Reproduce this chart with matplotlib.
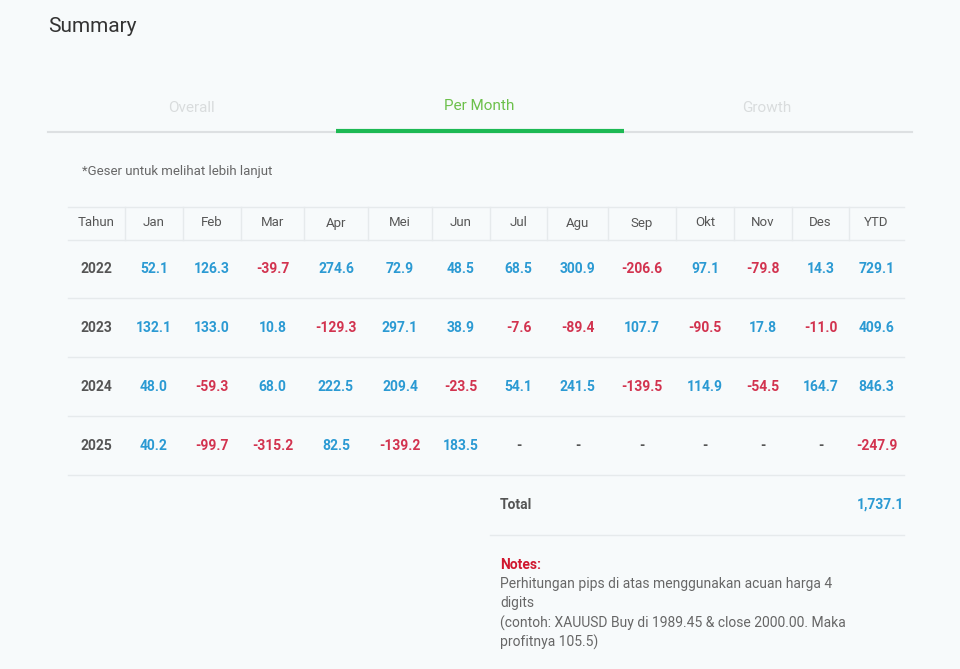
import matplotlib
matplotlib.use("Agg")
import matplotlib.pyplot as plt

months = ["Jan","Feb","Mar","Apr","Mei","Jun","Jul","Agu","Sep","Okt","Nov","Des"]
years = ["2022","2023","2024","2025"]
v2022 = [52.1,126.3,-39.7,274.6,72.9,48.5,68.5,300.9,-206.6,97.1,-79.8,14.3]
v2023 = [132.1,133.0,10.8,-129.3,297.1,38.9,-7.6,-89.4,107.7,-90.5,17.8,-11.0]
v2024 = [48.0,-59.3,68.0,222.5,209.4,-23.5,54.1,241.5,-139.5,114.9,-54.5,164.7]
v2025 = [40.2,-99.7,-315.2,82.5,-139.2,183.5,None,None,None,None,None,None]
ytd = [729.1,409.6,846.3,-247.9]
total = "1,737.1"
tabs = ["Overall","Per Month","Growth"]

BLUE="#2b9ad3"; RED="#d2334f"; GREY="#555555"; BG="#f7fafb"; LINE="#e6eaec"
FONT="Roboto"
fig = plt.figure(figsize=(9.6,6.69), dpi=100, facecolor=BG)
ax = fig.add_axes([0,0,1,1]); ax.set_xlim(0,960); ax.set_ylim(669,0); ax.axis("off")

ax.text(48,26,"Summary",fontsize=15,color="#333",va="center",family=FONT)
tabx=[191,479,767]
for i,t in enumerate(tabs):
    ax.text(tabx[i],106 if i==1 else 108,t,fontsize=11,color="#6cc04a" if i==1 else "#d9dcdd",ha="center",va="center",family=FONT)
ax.plot([48,912],[132,132],color="#dde0e2",lw=1.5)
ax.plot([336,624],[131,131],color="#1db954",lw=3,solid_capstyle="butt")
ax.text(82,172,"*Geser untuk melihat lebih lanjut",fontsize=9.5,color="#666",va="center",family=FONT)

bounds=[68,125,183,241,304,368,432,490,547,608,676,734,792,849,904]
cx=[(bounds[i]+bounds[i+1])/2 for i in range(len(bounds)-1)]
hy=223
for i,h in enumerate(["Tahun"]+months+["YTD"]):
    ax.text(cx[i],hy,h,fontsize=9.5,color="#555",ha="center",va="center",family=FONT)
ax.plot([68,904],[207,207],color=LINE,lw=1); ax.plot([68,904],[240,240],color=LINE,lw=1)
for b in bounds[1:-1]:
    ax.plot([b,b],[207,240],color=LINE,lw=1)

rows=[v2022,v2023,v2024,v2025]
rowy=[269,328,387,446]
def fmt(v): return "-" if v is None else f"{v:.1f}"
def col(v): return GREY if v is None else (RED if v<0 else BLUE)
kw=dict(fontsize=10,fontweight="bold",ha="center",va="center",family=FONT)
for r,(yr,vals) in enumerate(zip(years,rows)):
    y=rowy[r]
    ax.text(cx[0],y,yr,color=GREY,**kw)
    for j,v in enumerate(vals):
        ax.text(cx[j+1],y,fmt(v),color=col(v),**kw)
    ax.text(cx[13],y,fmt(ytd[r]),color=col(ytd[r]),**kw)
    ax.plot([68,904],[y+29,y+29],color=LINE,lw=1)
ax.text(500,505,"Total",fontsize=10,color=GREY,fontweight="bold",va="center",family=FONT)
ax.text(904,505,total,fontsize=10,color=BLUE,fontweight="bold",ha="right",va="center",family=FONT)
ax.plot([490,904],[535,535],color=LINE,lw=1)
ax.text(500,565,"Notes:",fontsize=10,color="#d0182f",fontweight="bold",va="center",family=FONT)
notes=["Perhitungan pips di atas menggunakan acuan harga 4","digits","(contoh: XAUUSD Buy di 1989.45 & close 2000.00. Maka","profitnya 105.5)"]
for k,n in enumerate(notes):
    ax.text(500,584+k*19.5,n,fontsize=10,color="#666",va="center",family=FONT)
fig.savefig("out.png",dpi=100,facecolor=BG)
